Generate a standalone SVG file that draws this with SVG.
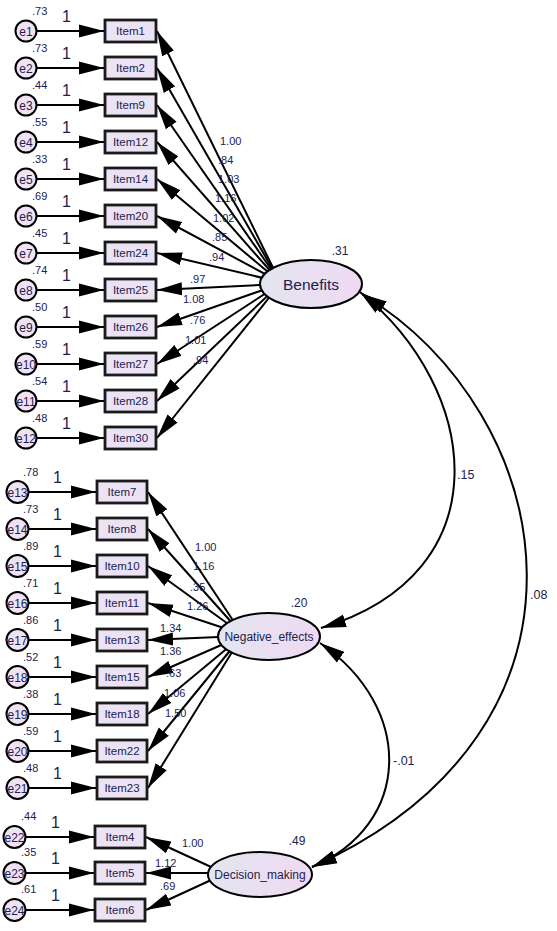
<svg xmlns="http://www.w3.org/2000/svg" width="557" height="931" viewBox="0 0 557 931">
<defs>
<marker id="ah" markerUnits="userSpaceOnUse" markerWidth="26" markerHeight="14" refX="25" refY="7" orient="auto-start-reverse" viewBox="0 0 26 14"><path d="M0,0.5 L25,7 L0,13.5 z" fill="#000"/></marker>
<linearGradient id="lg" x1="0" y1="0" x2="1" y2="0"><stop offset="0" stop-color="#e2e6f0"/><stop offset="1" stop-color="#f0d9f3"/></linearGradient>
<style>
.ln{stroke:#000;stroke-width:2;fill:none;marker-end:url(#ah)}
.arc{stroke:#000;stroke-width:2;fill:none;marker-start:url(#ah);marker-end:url(#ah)}
.err{fill:#f0e1f3;stroke:#000;stroke-width:2}
.box{fill:#ebe3f4;stroke:#1a1a1a;stroke-width:2.8}
.lat{fill:url(#lg);stroke:#000;stroke-width:2}
text{font-family:"Liberation Sans",Arial,sans-serif;fill:#1c2150}
.et{font-size:12px;text-anchor:middle}
.it{font-size:11.5px;text-anchor:middle}
.v{font-size:11px}
.one{font-size:16px}
.ld{font-size:11px}
.lt{font-size:15.5px;text-anchor:middle}
.ls{font-size:12px;text-anchor:middle}
.cv{font-size:12.5px}
</style>
</defs>
<rect width="557" height="931" fill="#fff"/>
<g id="connectors">
<line class="ln" x1="36.5" y1="31" x2="104" y2="31"/>
<line class="ln" x1="36.5" y1="68" x2="104" y2="68"/>
<line class="ln" x1="36.5" y1="105" x2="104" y2="105"/>
<line class="ln" x1="36.5" y1="142" x2="104" y2="142"/>
<line class="ln" x1="36.5" y1="179" x2="104" y2="179"/>
<line class="ln" x1="36.5" y1="216" x2="104" y2="216"/>
<line class="ln" x1="36.5" y1="253" x2="104" y2="253"/>
<line class="ln" x1="36.5" y1="290" x2="104" y2="290"/>
<line class="ln" x1="36.5" y1="327" x2="104" y2="327"/>
<line class="ln" x1="36.5" y1="364" x2="104" y2="364"/>
<line class="ln" x1="36.5" y1="401" x2="104" y2="401"/>
<line class="ln" x1="36.5" y1="438" x2="104" y2="438"/>
<line class="ln" x1="28.5" y1="492" x2="96" y2="492"/>
<line class="ln" x1="28.5" y1="529" x2="96" y2="529"/>
<line class="ln" x1="28.5" y1="566" x2="96" y2="566"/>
<line class="ln" x1="28.5" y1="603" x2="96" y2="603"/>
<line class="ln" x1="28.5" y1="640" x2="96" y2="640"/>
<line class="ln" x1="28.5" y1="677" x2="96" y2="677"/>
<line class="ln" x1="28.5" y1="714" x2="96" y2="714"/>
<line class="ln" x1="28.5" y1="751" x2="96" y2="751"/>
<line class="ln" x1="28.5" y1="788" x2="96" y2="788"/>
<line class="ln" x1="25.5" y1="837" x2="94" y2="837"/>
<line class="ln" x1="25.5" y1="873" x2="94" y2="873"/>
<line class="ln" x1="25.5" y1="910" x2="94" y2="910"/>
<line class="ln" x1="280" y1="282" x2="157" y2="31"/>
<line class="ln" x1="280" y1="282" x2="157" y2="68"/>
<line class="ln" x1="280" y1="282" x2="157" y2="105"/>
<line class="ln" x1="280" y1="282" x2="157" y2="142"/>
<line class="ln" x1="280" y1="282" x2="157" y2="179"/>
<line class="ln" x1="280" y1="282" x2="157" y2="216"/>
<line class="ln" x1="280" y1="282" x2="157" y2="253"/>
<line class="ln" x1="280" y1="284" x2="157" y2="290"/>
<line class="ln" x1="280" y1="284" x2="157" y2="327"/>
<line class="ln" x1="280" y1="284" x2="157" y2="364"/>
<line class="ln" x1="280" y1="284" x2="157" y2="401"/>
<line class="ln" x1="280" y1="284" x2="157" y2="438"/>
<line class="ln" x1="242" y1="634" x2="148" y2="492"/>
<line class="ln" x1="242" y1="634" x2="148" y2="529"/>
<line class="ln" x1="242" y1="634" x2="148" y2="566"/>
<line class="ln" x1="242" y1="634" x2="148" y2="603"/>
<line class="ln" x1="242" y1="636" x2="148" y2="640"/>
<line class="ln" x1="242" y1="636" x2="148" y2="677"/>
<line class="ln" x1="242" y1="636" x2="148" y2="714"/>
<line class="ln" x1="242" y1="636" x2="148" y2="751"/>
<line class="ln" x1="242" y1="636" x2="148" y2="788"/>
<line class="ln" x1="222" y1="872" x2="146" y2="837"/>
<line class="ln" x1="222" y1="873" x2="146" y2="873"/>
<line class="ln" x1="222" y1="875" x2="146" y2="910"/>
<path class="arc" d="M360,292 C480,388 505,573 321,628"/>
<path class="arc" d="M362,294 C560,414 620,728 312,867"/>
<path class="arc" d="M320,643 C415,708 412,825 312,867"/>
<text class="ld" x="220" y="145">1.00</text>
<text class="ld" x="218" y="164">.84</text>
<text class="ld" x="218" y="183">1.03</text>
<text class="ld" x="215" y="202">1.16</text>
<text class="ld" x="213" y="222">1.02</text>
<text class="ld" x="212" y="241">.85</text>
<text class="ld" x="209" y="261">.94</text>
<text class="ld" x="190" y="283">.97</text>
<text class="ld" x="183" y="303">1.08</text>
<text class="ld" x="190" y="324">.76</text>
<text class="ld" x="185" y="344">1.01</text>
<text class="ld" x="193" y="364">.94</text>
<text class="ld" x="195" y="551">1.00</text>
<text class="ld" x="193" y="570">1.16</text>
<text class="ld" x="190" y="591">.35</text>
<text class="ld" x="187" y="610">1.26</text>
<text class="ld" x="160" y="632">1.34</text>
<text class="ld" x="160" y="655">1.36</text>
<text class="ld" x="166" y="677">.63</text>
<text class="ld" x="164" y="697">1.06</text>
<text class="ld" x="165" y="717">1.50</text>
<text class="ld" x="182" y="847">1.00</text>
<text class="ld" x="155" y="867">1.12</text>
<text class="ld" x="160" y="890">.69</text>
<text class="cv" x="457" y="479">.15</text>
<text class="cv" x="530" y="599">.08</text>
<text class="cv" x="393" y="765">-.01</text>
<text class="one" x="62" y="22">1</text>
<text class="one" x="62" y="59">1</text>
<text class="one" x="62" y="96">1</text>
<text class="one" x="62" y="133">1</text>
<text class="one" x="62" y="170">1</text>
<text class="one" x="62" y="207">1</text>
<text class="one" x="62" y="244">1</text>
<text class="one" x="62" y="281">1</text>
<text class="one" x="62" y="318">1</text>
<text class="one" x="62" y="355">1</text>
<text class="one" x="62" y="392">1</text>
<text class="one" x="62" y="429">1</text>
<text class="one" x="53" y="483">1</text>
<text class="one" x="53" y="520">1</text>
<text class="one" x="53" y="557">1</text>
<text class="one" x="53" y="594">1</text>
<text class="one" x="53" y="631">1</text>
<text class="one" x="53" y="668">1</text>
<text class="one" x="53" y="705">1</text>
<text class="one" x="53" y="742">1</text>
<text class="one" x="53" y="779">1</text>
<text class="one" x="51" y="828">1</text>
<text class="one" x="51" y="864">1</text>
<text class="one" x="51" y="901">1</text>
</g>
<g id="e1"><circle class="err" cx="26" cy="31" r="10.5"/><text class="et" x="26" y="35.5">e1</text><text class="v" x="32" y="15">.73</text></g>
<g id="e2"><circle class="err" cx="26" cy="68" r="10.5"/><text class="et" x="26" y="72.5">e2</text><text class="v" x="32" y="52">.73</text></g>
<g id="e3"><circle class="err" cx="26" cy="105" r="10.5"/><text class="et" x="26" y="109.5">e3</text><text class="v" x="32" y="89">.44</text></g>
<g id="e4"><circle class="err" cx="26" cy="142" r="10.5"/><text class="et" x="26" y="146.5">e4</text><text class="v" x="32" y="126">.55</text></g>
<g id="e5"><circle class="err" cx="26" cy="179" r="10.5"/><text class="et" x="26" y="183.5">e5</text><text class="v" x="32" y="163">.33</text></g>
<g id="e6"><circle class="err" cx="26" cy="216" r="10.5"/><text class="et" x="26" y="220.5">e6</text><text class="v" x="32" y="200">.69</text></g>
<g id="e7"><circle class="err" cx="26" cy="253" r="10.5"/><text class="et" x="26" y="257.5">e7</text><text class="v" x="32" y="237">.45</text></g>
<g id="e8"><circle class="err" cx="26" cy="290" r="10.5"/><text class="et" x="26" y="294.5">e8</text><text class="v" x="32" y="274">.74</text></g>
<g id="e9"><circle class="err" cx="26" cy="327" r="10.5"/><text class="et" x="26" y="331.5">e9</text><text class="v" x="32" y="311">.50</text></g>
<g id="e10"><circle class="err" cx="26" cy="364" r="10.5"/><text class="et" x="26" y="368.5">e10</text><text class="v" x="32" y="348">.59</text></g>
<g id="e11"><circle class="err" cx="26" cy="401" r="10.5"/><text class="et" x="26" y="405.5">e11</text><text class="v" x="32" y="385">.54</text></g>
<g id="e12"><circle class="err" cx="26" cy="438" r="10.5"/><text class="et" x="26" y="442.5">e12</text><text class="v" x="32" y="422">.48</text></g>
<g id="e13"><circle class="err" cx="17.5" cy="492" r="11"/><text class="et" x="17.5" y="496.5">e13</text><text class="v" x="23" y="476">.78</text></g>
<g id="e14"><circle class="err" cx="17.5" cy="529" r="11"/><text class="et" x="17.5" y="533.5">e14</text><text class="v" x="23" y="513">.73</text></g>
<g id="e15"><circle class="err" cx="17.5" cy="566" r="11"/><text class="et" x="17.5" y="570.5">e15</text><text class="v" x="23" y="550">.89</text></g>
<g id="e16"><circle class="err" cx="17.5" cy="603" r="11"/><text class="et" x="17.5" y="607.5">e16</text><text class="v" x="23" y="587">.71</text></g>
<g id="e17"><circle class="err" cx="17.5" cy="640" r="11"/><text class="et" x="17.5" y="644.5">e17</text><text class="v" x="23" y="624">.86</text></g>
<g id="e18"><circle class="err" cx="17.5" cy="677" r="11"/><text class="et" x="17.5" y="681.5">e18</text><text class="v" x="23" y="661">.52</text></g>
<g id="e19"><circle class="err" cx="17.5" cy="714" r="11"/><text class="et" x="17.5" y="718.5">e19</text><text class="v" x="23" y="698">.38</text></g>
<g id="e20"><circle class="err" cx="17.5" cy="751" r="11"/><text class="et" x="17.5" y="755.5">e20</text><text class="v" x="23" y="735">.59</text></g>
<g id="e21"><circle class="err" cx="17.5" cy="788" r="11"/><text class="et" x="17.5" y="792.5">e21</text><text class="v" x="23" y="772">.48</text></g>
<g id="e22"><circle class="err" cx="14.5" cy="837" r="11"/><text class="et" x="14.5" y="841.5">e22</text><text class="v" x="21" y="820">.44</text></g>
<g id="e23"><circle class="err" cx="14.5" cy="873" r="11"/><text class="et" x="14.5" y="877.5">e23</text><text class="v" x="21" y="856">.35</text></g>
<g id="e24"><circle class="err" cx="14.5" cy="910" r="11"/><text class="et" x="14.5" y="914.5">e24</text><text class="v" x="21" y="893">.61</text></g>
<g id="Item1"><rect class="box" x="105" y="20" width="51" height="22"/><text class="it" x="130.5" y="35">Item1</text></g>
<g id="Item2"><rect class="box" x="105" y="57" width="51" height="22"/><text class="it" x="130.5" y="72">Item2</text></g>
<g id="Item9"><rect class="box" x="105" y="94" width="51" height="22"/><text class="it" x="130.5" y="109">Item9</text></g>
<g id="Item12"><rect class="box" x="105" y="131" width="51" height="22"/><text class="it" x="130.5" y="146">Item12</text></g>
<g id="Item14"><rect class="box" x="105" y="168" width="51" height="22"/><text class="it" x="130.5" y="183">Item14</text></g>
<g id="Item20"><rect class="box" x="105" y="205" width="51" height="22"/><text class="it" x="130.5" y="220">Item20</text></g>
<g id="Item24"><rect class="box" x="105" y="242" width="51" height="22"/><text class="it" x="130.5" y="257">Item24</text></g>
<g id="Item25"><rect class="box" x="105" y="279" width="51" height="22"/><text class="it" x="130.5" y="294">Item25</text></g>
<g id="Item26"><rect class="box" x="105" y="316" width="51" height="22"/><text class="it" x="130.5" y="331">Item26</text></g>
<g id="Item27"><rect class="box" x="105" y="353" width="51" height="22"/><text class="it" x="130.5" y="368">Item27</text></g>
<g id="Item28"><rect class="box" x="105" y="390" width="51" height="22"/><text class="it" x="130.5" y="405">Item28</text></g>
<g id="Item30"><rect class="box" x="105" y="427" width="51" height="22"/><text class="it" x="130.5" y="442">Item30</text></g>
<g id="Item7"><rect class="box" x="97" y="481" width="50" height="22"/><text class="it" x="122" y="496">Item7</text></g>
<g id="Item8"><rect class="box" x="97" y="518" width="50" height="22"/><text class="it" x="122" y="533">Item8</text></g>
<g id="Item10"><rect class="box" x="97" y="555" width="50" height="22"/><text class="it" x="122" y="570">Item10</text></g>
<g id="Item11"><rect class="box" x="97" y="592" width="50" height="22"/><text class="it" x="122" y="607">Item11</text></g>
<g id="Item13"><rect class="box" x="97" y="629" width="50" height="22"/><text class="it" x="122" y="644">Item13</text></g>
<g id="Item15"><rect class="box" x="97" y="666" width="50" height="22"/><text class="it" x="122" y="681">Item15</text></g>
<g id="Item18"><rect class="box" x="97" y="703" width="50" height="22"/><text class="it" x="122" y="718">Item18</text></g>
<g id="Item22"><rect class="box" x="97" y="740" width="50" height="22"/><text class="it" x="122" y="755">Item22</text></g>
<g id="Item23"><rect class="box" x="97" y="777" width="50" height="22"/><text class="it" x="122" y="792">Item23</text></g>
<g id="Item4"><rect class="box" x="95" y="826" width="50" height="22"/><text class="it" x="120" y="841">Item4</text></g>
<g id="Item5"><rect class="box" x="95" y="862" width="50" height="22"/><text class="it" x="120" y="877">Item5</text></g>
<g id="Item6"><rect class="box" x="95" y="899" width="50" height="22"/><text class="it" x="120" y="914">Item6</text></g>
<g id="Benefits"><ellipse class="lat" cx="311" cy="284" rx="51" ry="24"/><text class="lt" x="311" y="289.5">Benefits</text><text class="ls" x="340" y="255">.31</text></g>
<g id="Negative_effects"><ellipse class="lat" cx="269" cy="636.5" rx="51" ry="23.5"/><text class="ls" x="269" y="641">Negative_effects</text><text class="ls" x="299" y="607">.20</text></g>
<g id="Decision_making"><ellipse class="lat" cx="260" cy="874.5" rx="52" ry="22.5"/><text class="ls" x="260" y="879">Decision_making</text><text class="ls" x="297" y="845">.49</text></g>
</svg>
